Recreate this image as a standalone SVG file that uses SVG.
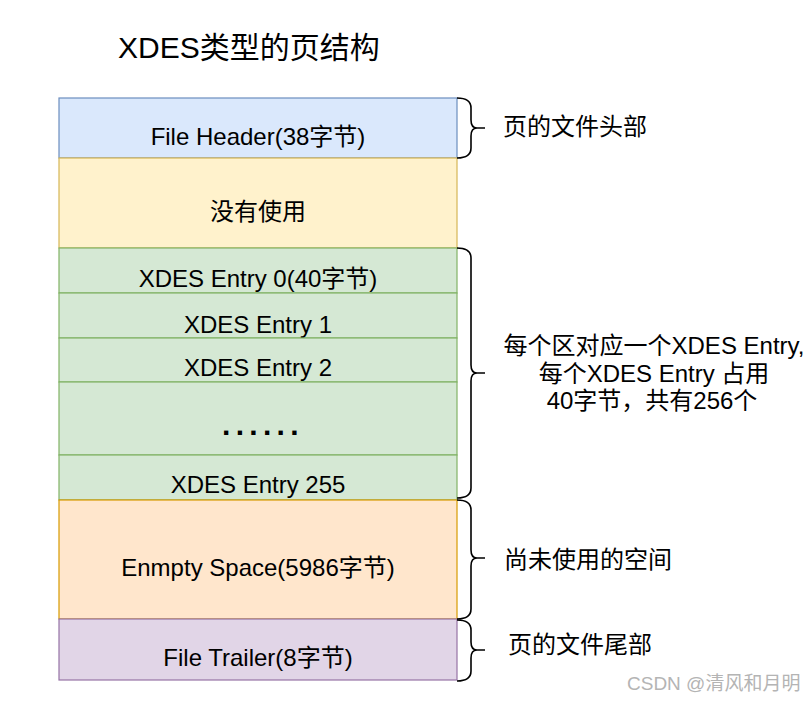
<svg xmlns="http://www.w3.org/2000/svg" width="812" height="702" viewBox="0 0 812 702">
  <style>
    text { font-family: "Liberation Sans", "Noto Sans CJK SC", sans-serif; fill: #000; }
    .lbl { font-size: 24px; text-anchor: middle; }
    .side { font-size: 24px; }
    .title { font-size: 30px; }
    .wm { font-size: 19px; fill: #b4b4b4; }
    .blue { fill: #dae8fc; stroke: #6c8ebf; stroke-width: 1.2; }
    .yellow { fill: #fff2cc; stroke: #d6b656; stroke-width: 1.2; }
    .green { fill: #d5e8d4; stroke: #82b366; stroke-width: 1.2; }
    .orange { fill: #ffe6cc; stroke: #d79b00; stroke-width: 1.2; }
    .purple { fill: #e1d5e7; stroke: #9673a6; stroke-width: 1.2; }
    .brace { fill: none; stroke: #000; stroke-width: 1.6; }
  </style>
  <rect width="812" height="702" fill="#ffffff"/>

  <text class="title" x="118" y="58">XDES类型的页结构</text>

  <g id="file-header">
    <rect class="blue" x="59" y="98" width="398" height="60"/>
    <text class="lbl" x="258" y="145">File Header(38字节)</text>
  </g>
  <g id="unused">
    <rect class="yellow" x="59" y="158" width="398" height="90"/>
    <text class="lbl" x="258" y="220">没有使用</text>
  </g>
  <g id="xdes-entry-0">
    <rect class="green" x="59" y="248" width="398" height="45"/>
    <text class="lbl" x="258" y="287">XDES Entry 0(40字节)</text>
  </g>
  <g id="xdes-entry-1">
    <rect class="green" x="59" y="293" width="398" height="45"/>
    <text class="lbl" x="258" y="333">XDES Entry 1</text>
  </g>
  <g id="xdes-entry-2">
    <rect class="green" x="59" y="338" width="398" height="44"/>
    <text class="lbl" x="258" y="376">XDES Entry 2</text>
  </g>
  <g id="xdes-ellipsis">
    <rect class="green" x="59" y="382" width="398" height="73"/>
    <text x="222" y="435" style="font-size:30px;font-weight:bold;letter-spacing:5.3px">......</text>
  </g>
  <g id="xdes-entry-255">
    <rect class="green" x="59" y="455" width="398" height="45"/>
    <text class="lbl" x="258" y="493">XDES Entry 255</text>
  </g>
  <g id="empty-space">
    <rect class="orange" x="59" y="500" width="398" height="119"/>
    <text class="lbl" x="258" y="576">Enmpty Space(5986字节)</text>
  </g>
  <g id="file-trailer">
    <rect class="purple" x="59" y="619" width="398" height="61"/>
    <text class="lbl" x="258" y="666">File Trailer(8字节)</text>
  </g>

  <g id="connectors">
    <path class="brace" d="M457,98 Q471,98 471,108 L471,120 Q471,128 477,128 L485,128 M477,128 Q471,128 471,136 L471,148 Q471,158 457,158"/>
    <path class="brace" d="M457,248 Q471,248 471,258 L471,365 Q471,373 477,373 L485,373 M477,373 Q471,373 471,381 L471,488 Q471,498 457,498"/>
    <path class="brace" d="M457,500 Q471,500 471,510 L471,550 Q471,558 477,558 L485,558 M477,558 Q471,558 471,566 L471,609 Q471,619 457,619"/>
    <path class="brace" d="M457,620 Q471,620 471,630 L471,642 Q471,650 477,650 L485,650 M477,650 Q471,650 471,658 L471,671 Q471,681 457,681"/>
  </g>

  <g id="label-header">
    <text class="side" x="503" y="135">页的文件头部</text>
  </g>
  <g id="label-xdes">
    <text class="side" text-anchor="middle" x="654" y="354">每个区对应一个XDES Entry,</text>
    <text class="side" text-anchor="middle" x="654" y="382">每个XDES Entry 占用</text>
    <text class="side" text-anchor="middle" x="652" y="409">40字节，共有256个</text>
  </g>
  <g id="label-empty">
    <text class="side" x="504" y="568">尚未使用的空间</text>
  </g>
  <g id="label-trailer">
    <text class="side" x="508" y="653">页的文件尾部</text>
  </g>

  <text class="wm" x="627" y="690">CSDN @清风和月明</text>
</svg>
